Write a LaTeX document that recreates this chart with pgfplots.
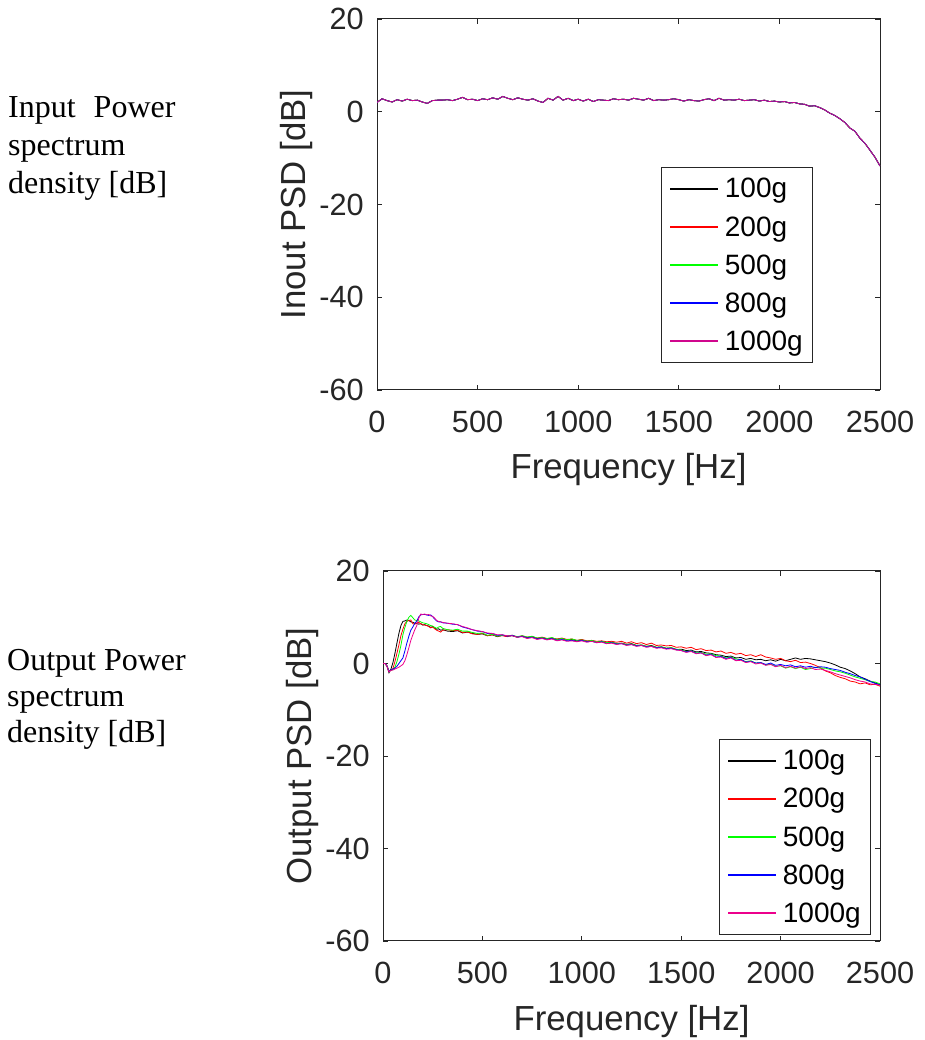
\documentclass[border=0pt]{standalone}
\usepackage{pgfplots}
\pgfplotsset{compat=1.18}
\usepackage{pgfplotstable}
\usepackage{fontspec}
\setmainfont{Liberation Sans}
\newfontfamily\timesfont{Liberation Serif}
\definecolor{axgray}{RGB}{38,38,38}

\pgfplotstableread{
x y
0 2.0
25 2.8
50 2.4
75 2.1
100 2.6
125 2.3
150 2.7
175 2.4
200 2.5
225 2.1
250 1.8
275 2.4
300 2.5
325 2.5
350 2.6
375 2.4
400 2.7
425 3.1
450 2.6
475 2.7
500 2.4
525 2.8
550 2.6
575 3.0
600 2.7
625 3.3
650 2.9
675 2.6
700 3.0
725 2.7
750 2.5
775 2.8
800 2.3
825 2.0
850 2.9
875 2.5
900 3.3
925 2.5
950 2.9
975 2.4
1000 2.7
1025 2.3
1050 2.7
1075 2.2
1100 2.6
1125 2.5
1150 2.4
1175 2.8
1200 2.6
1225 2.7
1250 2.5
1275 2.9
1300 2.7
1325 2.5
1350 2.9
1375 2.4
1400 2.6
1425 2.5
1450 2.6
1475 2.8
1500 2.6
1525 2.3
1550 2.6
1575 2.4
1600 2.3
1625 2.6
1650 2.8
1675 2.4
1700 2.9
1725 2.5
1750 2.6
1775 2.5
1800 2.7
1825 2.4
1850 2.5
1875 2.6
1900 2.3
1925 2.5
1950 2.2
1975 2.3
2000 2.1
2025 2.2
2050 1.9
2075 2.0
2100 1.7
2125 1.6
2150 1.2
2175 1.3
2200 0.9
2225 0.4
2250 -0.3
2275 -0.8
2300 -1.5
2325 -2.3
2350 -3.5
2375 -4.2
2400 -5.7
2425 -6.8
2450 -8.3
2475 -9.8
2500 -11.7
}\topdata

\pgfplotstableread{
x k r g b m
0 0.0 0.0 0.0 0.0 0.0
10 0.0 0.0 0.0 0.0 0.0
20 -0.6 -0.5 -0.5 -0.5 -0.6
30 -2.0 -1.7 -1.6 -1.7 -1.8
40 -1.2 -1.5 -1.5 -1.4 -1.5
50 0.2 -1.1 -1.3 -1.2 -1.4
60 2.2 0.4 -0.8 -1.0 -1.2
70 4.4 2.2 0.4 -0.6 -1.0
80 6.5 4.0 2.0 0.0 -0.8
90 8.2 6.0 3.9 0.6 -0.5
100 9.1 7.4 6.2 1.2 -0.2
110 9.2 8.6 7.8 2.7 0.6
120 9.4 9.1 9.1 4.4 1.9
130 9.3 9.3 10.0 5.9 3.4
140 9.0 9.4 10.4 7.2 5.0
150 8.9 8.6 9.9 7.9 6.2
160 8.7 8.5 9.4 8.7 7.3
170 8.7 8.8 9.3 9.2 8.2
180 8.5 8.9 9.2 10.1 9.8
190 8.6 8.6 9.0 10.5 10.7
200 8.3 8.4 8.8 10.6 10.6
210 8.4 8.3 8.7 10.6 10.7
220 8.2 8.2 8.6 10.5 10.5
230 8.1 8.0 8.4 10.4 10.6
240 7.8 7.7 8.2 10.5 10.3
250 8.0 7.9 8.1 10.1 10.2
260 7.6 7.5 7.8 9.6 9.8
270 7.4 7.2 7.6 9.2 9.3
280 7.5 7.0 7.9 9.0 9.1
290 7.2 6.8 8.0 9.0 9.0
300 7.3 7.2 7.6 8.8 8.9
325 7.0 7.3 7.3 8.7 8.7
350 6.9 7.1 7.2 8.5 8.6
375 7.1 7.2 7.4 8.4 8.4
400 6.6 6.7 7.0 7.9 8.0
425 6.8 6.8 7.0 7.6 7.7
450 6.5 6.4 6.7 7.3 7.3
475 6.3 6.3 6.5 7.0 7.1
500 6.4 6.5 6.6 6.9 6.9
525 6.0 6.0 6.1 6.5 6.6
550 6.2 6.2 6.3 6.5 6.5
575 5.8 5.9 5.9 6.1 6.2
600 6.1 6.0 6.1 6.2 6.2
625 5.9 5.8 6.0 5.9 6.0
650 6.0 6.1 6.1 6.1 6.0
675 5.7 5.7 5.8 5.7 5.7
700 5.9 6.0 6.0 5.9 5.8
725 5.6 5.7 5.7 5.5 5.4
750 5.8 5.8 5.9 5.7 5.6
775 5.4 5.5 5.5 5.3 5.2
800 5.6 5.7 5.6 5.5 5.4
825 5.3 5.4 5.4 5.2 5.1
850 5.5 5.5 5.6 5.4 5.3
875 5.2 5.3 5.2 5.0 4.9
900 5.4 5.5 5.4 5.2 5.1
925 5.1 5.2 5.1 4.9 4.8
950 5.2 5.3 5.3 5.0 4.9
975 4.9 5.0 5.0 4.8 4.7
1000 5.1 5.2 5.1 5.0 4.9
1025 4.8 4.9 4.8 4.7 4.6
1050 4.9 5.0 5.0 4.8 4.8
1075 4.6 4.8 4.6 4.5 4.5
1100 4.8 4.9 4.8 4.7 4.6
1125 4.4 4.7 4.5 4.3 4.3
1150 4.6 4.8 4.6 4.5 4.4
1175 4.3 4.6 4.3 4.2 4.1
1200 4.4 4.8 4.4 4.3 4.3
1225 4.1 4.4 4.1 4.0 3.9
1250 4.3 4.7 4.2 4.1 4.1
1275 3.9 4.3 3.9 3.8 3.7
1300 4.0 4.5 4.0 3.9 3.9
1325 3.7 4.1 3.7 3.6 3.5
1350 3.9 4.4 3.8 3.7 3.7
1375 3.5 3.9 3.5 3.4 3.3
1400 3.6 4.0 3.6 3.5 3.4
1425 3.3 3.8 3.3 3.2 3.1
1450 3.4 3.9 3.4 3.3 3.2
1475 3.0 3.5 3.1 3.0 2.9
1500 3.1 3.6 2.9 2.8 2.8
1525 2.8 3.3 2.6 2.5 2.4
1550 2.9 3.5 2.7 2.7 2.6
1575 2.5 3.0 2.3 2.2 2.1
1600 2.6 3.2 2.4 2.3 2.3
1625 2.3 2.8 2.0 1.8 1.7
1650 2.2 2.9 2.1 2.0 1.9
1675 1.9 2.5 1.7 1.4 1.3
1700 1.8 2.7 1.6 1.5 1.4
1725 1.5 2.2 1.2 1.1 0.9
1750 1.6 2.4 1.4 1.3 1.2
1775 1.2 2.0 1.0 0.7 0.6
1800 1.3 2.2 0.8 0.9 0.7
1825 0.9 1.7 0.4 0.3 0.2
1850 1.1 1.9 0.6 0.5 0.4
1875 0.8 1.5 0.1 0.1 -0.1
1900 0.9 1.9 0.2 0.2 0.1
1925 0.6 1.4 -0.3 -0.2 -0.4
1950 0.8 1.2 -0.1 0.1 -0.2
1975 0.5 0.9 -0.6 -0.4 -0.7
2000 0.9 1.1 -0.5 -0.2 -0.4
2025 0.6 0.6 -1.0 -0.5 -0.9
2050 0.9 0.4 -0.7 -0.3 -0.6
2075 1.2 0.7 -1.1 -0.7 -1.0
2100 0.9 0.2 -0.8 -0.5 -0.7
2125 1.1 0.3 -1.3 -0.8 -1.1
2150 1.0 0.0 -1.1 -0.6 -0.9
2175 0.8 -0.4 -0.8 -0.9 -1.3
2200 0.6 -0.9 -1.0 -0.7 -1.2
2225 0.4 -1.6 -1.0 -0.8 -1.5
2250 0.1 -2.0 -1.3 -1.1 -1.8
2275 -0.3 -2.6 -1.6 -1.3 -2.2
2300 -0.8 -3.0 -1.8 -1.5 -2.5
2325 -1.1 -3.3 -2.1 -1.9 -2.8
2350 -1.6 -3.8 -2.5 -2.2 -3.1
2375 -2.2 -4.0 -2.9 -2.6 -3.5
2400 -2.9 -4.4 -3.2 -2.9 -3.8
2425 -3.3 -4.2 -3.5 -3.4 -4.0
2450 -3.8 -4.6 -3.9 -3.9 -4.4
2475 -4.2 -4.5 -4.0 -4.3 -4.5
2500 -4.6 -4.9 -4.4 -4.6 -4.7
}\botdata

\pgfplotsset{
  psdaxis/.style={
    scale only axis,
    xmin=0, xmax=2500, ymin=-60, ymax=20,
    xtick={0,500,1000,1500,2000,2500},
    ytick={-60,-40,-20,0,20},
    axis line style={axgray, line width=1pt},
    major tick style={axgray, line width=0.8pt},
    major tick length=5pt,
    tick align=inside,
    tick label style={font=\fontsize{30.7}{30.7}\selectfont, text=axgray, inner sep=0pt},
    /pgf/number format/assume math mode=true,
    /pgf/number format/1000 sep={},
    xticklabel shift=21pt,
    yticklabel shift=13pt,
    every axis x label/.style={at={(axis description cs:0.5,0)}, anchor=base, yshift=-89pt, font=\fontsize{34.8}{34.8}\selectfont, text=axgray},
    legend cell align=left,
    every axis plot/.append style={no marks, line width=0.8pt},
  }
}

\begin{document}
\begin{tikzpicture}[x=1pt,y=1pt]
\path[use as bounding box] (0,0) rectangle (924,1040);

\begin{scope}[font=\timesfont\fontsize{32}{36}\selectfont]
\node[anchor=base west, inner sep=0pt] at (8,922) {Input\hspace{10pt} Power};
\node[anchor=base west, inner sep=0pt] at (8,884) {spectrum};
\node[anchor=base west, inner sep=0pt] at (8,846) {density [dB]};
\node[anchor=base west, inner sep=0pt] at (7,369) {Output Power};
\node[anchor=base west, inner sep=0pt] at (7,333) {spectrum};
\node[anchor=base west, inner sep=0pt] at (7,297) {density [dB]};
\end{scope}

\begin{axis}[psdaxis,
  at={(377pt,650pt)}, anchor=south west,
  width=503pt, height=371pt,
  xlabel={Frequency [Hz]},
  ylabel={Inout PSD [dB]},
  every axis y label/.style={at={(axis description cs:-0.1412,0.5)}, anchor=base, rotate=90, font=\fontsize{34.8}{34.8}\selectfont, text=axgray},
  legend image code/.code={\draw[#1] (0pt,0pt) -- (48pt,0pt);},
  legend image post style={line width=1.5pt},
  legend style={at={(0.5646,0.601)}, anchor=north west, draw=axgray, line width=0.8pt,
    font=\fontsize{28}{28}\selectfont, inner xsep=8pt, inner ysep=9pt, row sep=13pt, column sep=4pt,
    nodes={inner sep=2pt}},
]
\addplot[black] table[x=x,y=y] {\topdata};
\addplot[red] table[x=x,y=y] {\topdata};
\addplot[green] table[x=x,y=y] {\topdata};
\addplot[blue] table[x=x,y=y] {\topdata};
\addplot[magenta!85!blue] table[x=x,y=y] {\topdata};
\legend{100g,200g,500g,800g,1000g}
\end{axis}

\begin{axis}[psdaxis,
  at={(383pt,99pt)}, anchor=south west,
  width=497pt, height=370pt,
  xlabel={Frequency [Hz]},
  ylabel={Output PSD [dB]},
  every axis y label/.style={at={(axis description cs:-0.1429,0.5)}, anchor=base, rotate=90, font=\fontsize{34.8}{34.8}\selectfont, text=axgray},
  legend image code/.code={\draw[#1] (0pt,0pt) -- (48pt,0pt);},
  legend image post style={line width=1.5pt},
  legend style={at={(0.676,0.546)}, anchor=north west, draw=axgray, line width=0.8pt,
    font=\fontsize{28}{28}\selectfont, inner xsep=8pt, inner ysep=9pt, row sep=13pt, column sep=4pt,
    nodes={inner sep=2pt}},
]
\addplot[black] table[x=x,y=k] {\botdata};
\addplot[red] table[x=x,y=r] {\botdata};
\addplot[green] table[x=x,y=g] {\botdata};
\addplot[blue] table[x=x,y=b] {\botdata};
\addplot[magenta] table[x=x,y=m] {\botdata};
\legend{100g,200g,500g,800g,1000g}
\end{axis}
\end{tikzpicture}
\end{document}
